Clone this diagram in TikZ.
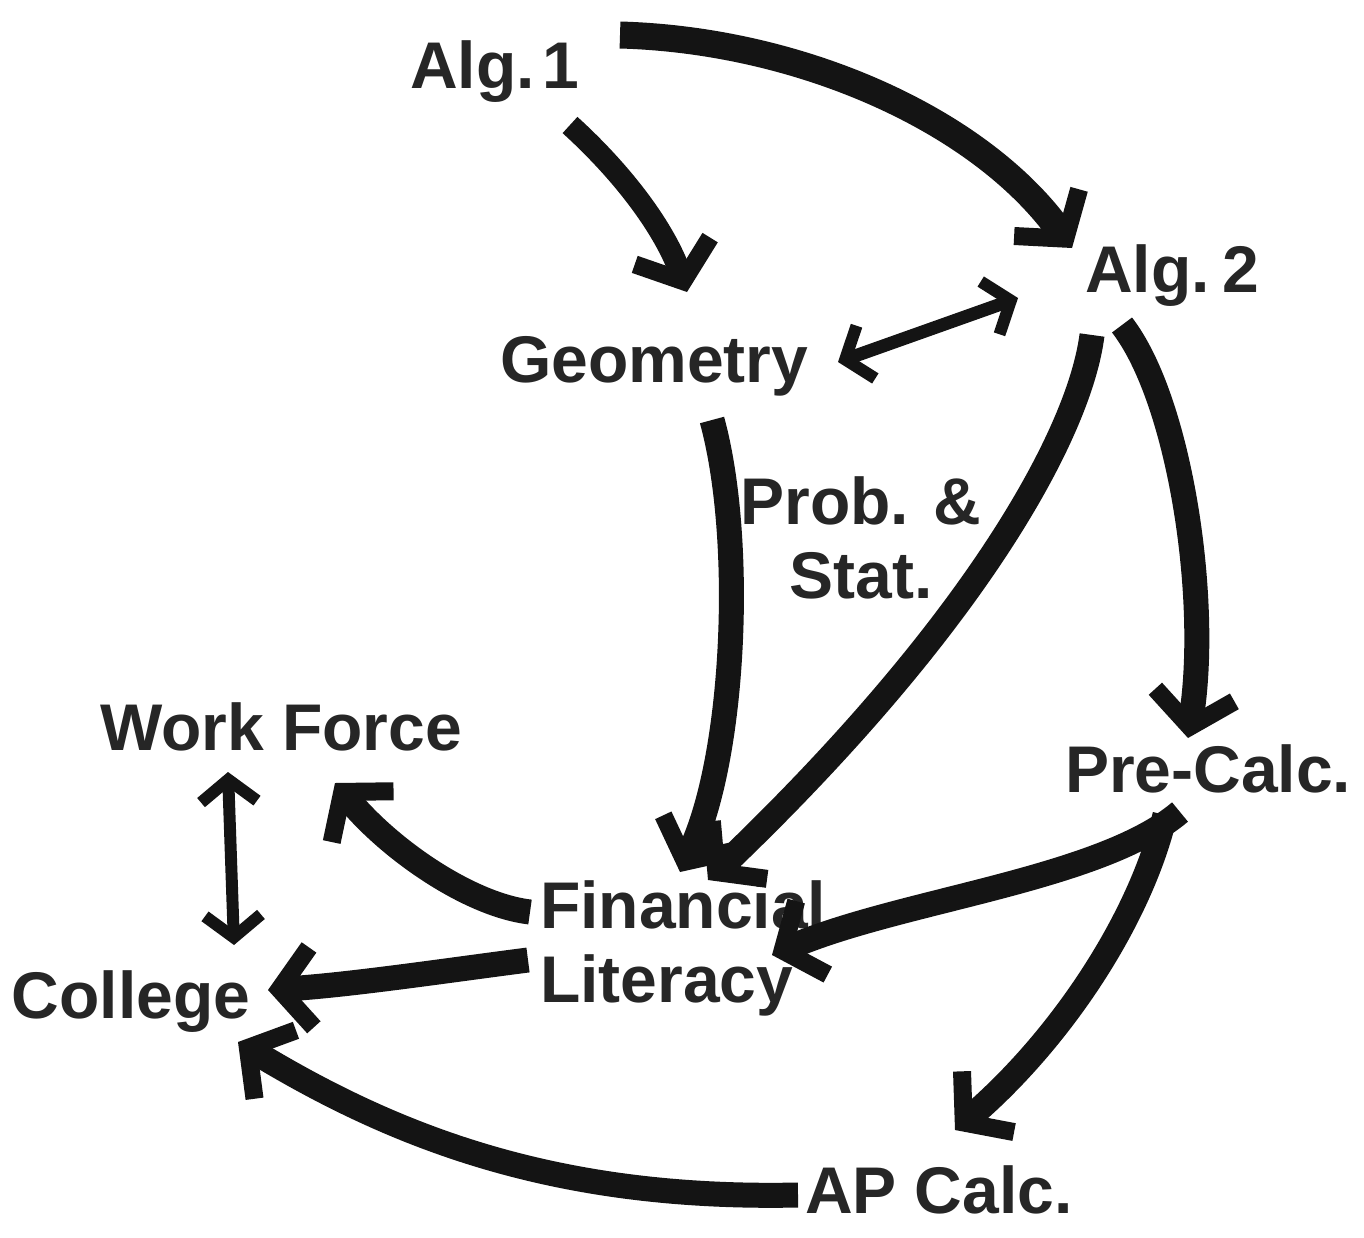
\documentclass[tikz,border=0pt]{standalone}
\usepackage{fontspec}
\setmainfont{Liberation Sans}
\usetikzlibrary{arrows.meta}
\begin{document}
\begin{tikzpicture}[x=1pt,y=-1pt,
  lbl/.style={inner sep=0pt,outer sep=0pt,text=black!85,font=\fontsize{66}{74}\selectfont\bfseries},
  arr/.style={draw=black!92,line width=25pt,-{Straight Barb[length=32pt,width=80pt,line width=18pt]}},
  thinarr/.style={draw=black!92,line width=13pt,{Straight Barb[length=22pt,width=56pt,line width=12pt]}-{Straight Barb[length=22pt,width=56pt,line width=12pt]}}
]
\useasboundingbox[fill=white] (0,0) rectangle (1364,1237);
% nodes
\node[lbl,anchor=base west] (alg1) at (410,88) {Alg.\hspace{0.12em}1};
\node[lbl,anchor=base west] (alg2) at (1085,292) {Alg.\hspace{0.2em}2};
\node[lbl,anchor=base west] (geo) at (500,382) {Geometry};
\node[lbl,anchor=base,align=center] (prob) at (861,598) {Prob. \&\\Stat.};
\node[lbl,anchor=base west] (work) at (100,750) {Work Force};
\node[lbl,anchor=base west] (coll) at (12,1018) {College};
\node[lbl,anchor=base west,align=left] (fin) at (540,1002) {Financial\\Literacy};
\node[lbl,anchor=base west] (pre) at (1065,792) {Pre-Calc.};
\node[lbl,anchor=base west] (ap) at (805,1213) {AP Calc.};
% connectors
\draw[arr,line width=27pt] ([shift={(210,-53)}]alg1.base west) .. controls (800,40) and (980,120) .. ([shift={(-13,-44)}]alg2.base west);
\draw[arr,line width=22pt] ([shift={(160,37)}]alg1.base west) .. controls (625,175) and (665,230) .. ([shift={(187,-90)}]geo.base west);
\draw[thinarr] ([shift={(338,-20)}]geo.base west) -- ([shift={(-67,6)}]alg2.base west);
\draw[arr] ([shift={(212,38)}]geo.base west) .. controls (745,540) and (735,760) .. ([shift={(140,-130)}]fin.base west);
\draw[arr] ([shift={(7,43)}]alg2.base west) .. controls (1080,430) and (980,620) .. ([shift={(168,-122)}]fin.base west);
\draw[arr] ([shift={(37,33)}]alg2.base west) .. controls (1180,400) and (1210,600) .. ([shift={(123,-54)}]pre.base west);
\draw[arr] ([shift={(115,20)}]pre.base west) .. controls (1100,880) and (900,900) .. ([shift={(232,-47)}]fin.base west);
\draw[arr] ([shift={(100,23)}]pre.base west) .. controls (1140,920) and (1060,1040) .. ([shift={(150,-83)}]ap.base west);
\draw[arr] ([shift={(-7,-18)}]ap.base west) .. controls (560,1200) and (400,1140) .. ([shift={(226,24)}]coll.base west);
\draw[arr] ([shift={(-12,-42)}]fin.base west) .. controls (450,970) and (350,985) .. ([shift={(256,-28)}]coll.base west);
\draw[arr] ([shift={(-10,-90)}]fin.base west) .. controls (470,905) and (390,850) .. ([shift={(235,33)}]work.base west);
\draw[thinarr,line width=12pt] ([shift={(128,22)}]work.base west) -- ([shift={(222,-73)}]coll.base west);
\end{tikzpicture}
\end{document}
